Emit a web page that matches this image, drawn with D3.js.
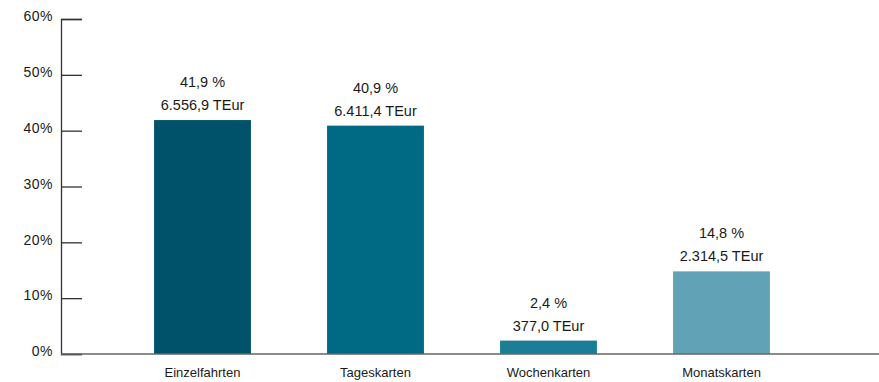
<!DOCTYPE html>
<html>
<head>
<meta charset="utf-8">
<script src="https://cdn.jsdelivr.net/npm/d3@7"></script>
<style>
  html, body { margin: 0; padding: 0; background: #fff; }
  svg text { font-family: "Liberation Sans", Arial, Helvetica, sans-serif; fill: #1a1a1a; }
</style>
</head>
<body>
<svg id="chart" width="879" height="382"></svg>
<script>
// Ticket sales by type: share of revenue and amount in thousand euros
const categories = ["Einzelfahrten", "Tageskarten", "Wochenkarten", "Monatskarten"];
const shares = [41.9, 40.9, 2.4, 14.8];
const amounts = ["6.556,9", "6.411,4", "377,0", "2.314,5"];
const barColors = ["#00526a", "#006a85", "#1a7f96", "#61a2b6"];
const yTicks = [0, 10, 20, 30, 40, 50, 60];

const svg = d3.select("#chart");

const x = d3.scaleBand()
  .domain(categories)
  .range([116, 808])
  .paddingInner(0.44)
  .paddingOuter(0.22);

const y = d3.scaleLinear()
  .domain([0, 60])
  .range([354, 19]);

const fmtShare = v => d3.format(".1f")(v).replace(".", ",") + " %";

// Y axis with left-hand labels and ticks pointing into the plot
const yAxis = d3.axisRight(y)
  .tickValues(yTicks)
  .tickSize(21)
  .tickFormat(d => d + "%");

const gy = svg.append("g")
  .attr("transform", "translate(61,0)")
  .call(yAxis);
gy.select(".domain").attr("stroke", "#333").attr("stroke-width", 1.3);
gy.selectAll(".tick line").attr("stroke", "#333").attr("stroke-width", 1.3);
gy.selectAll(".tick text")
  .attr("x", -8)
  .attr("dy", "0.12em")
  .attr("text-anchor", "end")
  .style("font-size", "14px")
  .style("letter-spacing", "0.5px");

// Bars
svg.append("g")
  .selectAll("rect")
  .data(categories)
  .join("rect")
  .attr("x", d => x(d))
  .attr("width", x.bandwidth())
  .attr("y", (d, i) => y(shares[i]))
  .attr("height", (d, i) => y(0) - y(shares[i]))
  .attr("fill", (d, i) => barColors[i]);

// Baseline across the full width
svg.append("line")
  .attr("x1", 61).attr("x2", 879)
  .attr("y1", y(0)).attr("y2", y(0))
  .attr("stroke", "#666").attr("stroke-width", 1.5);

// Value labels above each bar
const labels = svg.append("g")
  .selectAll("g")
  .data(categories)
  .join("g")
  .attr("transform", (d, i) => `translate(${x(d) + x.bandwidth() / 2},${y(shares[i])})`);

labels.append("text")
  .attr("y", -33)
  .attr("text-anchor", "middle")
  .style("font-size", "14.5px")
  .text((d, i) => fmtShare(shares[i]));

labels.append("text")
  .attr("y", -10)
  .attr("text-anchor", "middle")
  .style("font-size", "14.5px")
  .text((d, i) => amounts[i] + " TEur");

// Category labels under the baseline
const xAxis = d3.axisBottom(x).tickSize(0);
const gx = svg.append("g")
  .attr("transform", `translate(0,${y(0)})`)
  .call(xAxis);
gx.select(".domain").remove();
gx.selectAll(".tick text")
  .attr("y", 14)
  .style("font-size", "13px");
</script>
</body>
</html>
